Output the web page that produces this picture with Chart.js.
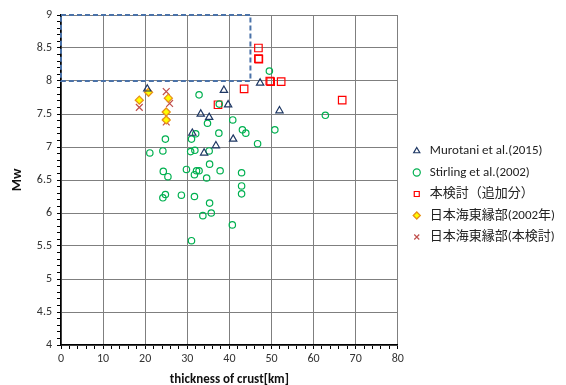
<!DOCTYPE html>
<html>
<head>
<meta charset="utf-8">
<script src="https://cdn.jsdelivr.net/npm/chart.js@4/dist/chart.umd.min.js"></script>
<style>
  body { margin: 0; background: #fff; }
</style>
</head>
<body>
<canvas id="crustChart" width="566" height="385"></canvas>
<script>
// values
const murotaniX = [20.5, 38.7, 47.3, 39.7, 33.2, 35.2, 51.9, 31.2, 40.9, 36.8, 34.0];
const murotaniY = [7.88, 7.86, 7.97, 7.64, 7.50, 7.45, 7.55, 7.21, 7.12, 7.02, 6.91];

const stirlingX = [49.5, 32.8, 37.6, 34.8, 40.8, 50.8, 43.1, 43.9, 32.0, 37.5, 62.8, 24.8, 21.1, 24.2,
  31.0, 46.7, 30.8, 31.8, 35.2, 35.3, 29.8, 32.2, 32.8, 37.8, 42.9, 24.3, 25.4, 31.7, 34.6, 42.9,
  42.9, 28.6, 31.7, 24.8, 24.2, 35.3, 35.7, 33.7, 40.7, 31.0];
const stirlingY = [8.15, 7.79, 7.65, 7.36, 7.41, 7.26, 7.26, 7.21, 7.20, 7.21, 7.48, 7.12, 6.91, 6.94,
  7.12, 7.05, 6.93, 6.95, 6.94, 6.74, 6.66, 6.64, 6.64, 6.64, 6.61, 6.63, 6.55, 6.58, 6.53, 6.41,
  6.29, 6.27, 6.25, 6.28, 6.23, 6.15, 6.00, 5.96, 5.82, 5.58];

const addedX = [46.9, 46.9, 47.0, 49.6, 49.8, 52.3, 43.5, 37.3, 66.8];
const addedY = [8.50, 8.34, 8.33, 8.00, 7.99, 7.99, 7.88, 7.64, 7.71];

const jsea2002X = [20.8, 18.6, 25.5, 25.0, 25.0];
const jsea2002Y = [7.83, 7.71, 7.74, 7.53, 7.41];

const jseaThisX = [25.0, 25.8, 18.6, 25.0];
const jseaThisY = [7.84, 7.66, 7.60, 7.38];

// dashed region outline
const boxX = [0, 45, 45, 0, 0];
const boxY = [9, 9, 8, 8, 9];

const xTicks = [0, 10, 20, 30, 40, 50, 60, 70, 80];
const yTicks = [4, 4.5, 5, 5.5, 6, 6.5, 7, 7.5, 8, 8.5, 9];

const seriesNames = ['Murotani et al.(2015)', 'Stirling et al.(2002)', '本検討（追加分）',
  '日本海東縁部(2002年)', '日本海東縁部(本検討)'];

const toPoints = (xs, ys) => xs.map((x, i) => ({ x: x, y: ys[i] }));
const isMajor = (list, v) => list.some(t => Math.abs(t - v) < 1e-6);

Chart.defaults.font.family = "Carlito, 'Liberation Sans Narrow', 'Liberation Sans', 'Noto Sans CJK JP', sans-serif";
Chart.defaults.color = '#333';

// put the legend where the original has it
const legendPlace = {
  id: 'legendPlace',
  afterLayout(chart) {
    chart.legend.left = chart.chartArea.right + 4;
    chart.legend.right = 566;
    chart.legend.width = 566 - chart.legend.left;
    chart.legend.top = 136;
    chart.legend.bottom = 385;
    chart.legend.height = 385 - 136;
  }
};

const ctx = document.getElementById('crustChart').getContext('2d');

const crustChart = new Chart(ctx, {
  type: 'scatter',
  data: {
    datasets: [
      {
        label: seriesNames[0],
        data: toPoints(murotaniX, murotaniY),
        pointStyle: 'triangle',
        pointRadius: 4.2,
        borderColor: '#1f3864',
        backgroundColor: 'rgba(0,0,0,0)',
        borderWidth: 1.2,
      },
      {
        label: seriesNames[1],
        data: toPoints(stirlingX, stirlingY),
        pointStyle: 'circle',
        pointRadius: 3.2,
        borderColor: '#00b050',
        backgroundColor: 'rgba(0,0,0,0)',
        borderWidth: 1.2,
      },
      {
        label: seriesNames[2],
        data: toPoints(addedX, addedY),
        pointStyle: 'rect',
        pointRadius: 5.3,
        borderColor: '#ff0000',
        backgroundColor: 'rgba(0,0,0,0)',
        borderWidth: 1.2,
      },
      {
        label: seriesNames[3],
        data: toPoints(jsea2002X, jsea2002Y),
        pointStyle: 'rectRot',
        pointRadius: 4,
        borderColor: '#e8901a',
        backgroundColor: '#ffff00',
        borderWidth: 1.3,
      },
      {
        label: seriesNames[4],
        data: toPoints(jseaThisX, jseaThisY),
        pointStyle: 'crossRot',
        pointRadius: 4.8,
        borderColor: '#c0504d',
        backgroundColor: 'rgba(0,0,0,0)',
        borderWidth: 1.2,
      },
      {
        type: 'line',
        label: 'box',
        data: toPoints(boxX, boxY),
        borderColor: '#4a72a8',
        borderWidth: 2,
        borderDash: [5, 3],
        pointRadius: 0,
        fill: false,
        clip: false,
      },
    ],
  },
  options: {
    responsive: false,
    animation: false,
    events: [],
    layout: {
      padding: { top: 15, right: 5, left: 0, bottom: 0 },
    },
    plugins: {
      tooltip: { enabled: false },
      legend: {
        position: 'right',
        align: 'start',
        maxWidth: 165,
        labels: {
          usePointStyle: true,
          boxHeight: 5,
          padding: 8.5,
          color: '#222',
          font: { size: 13 },
          filter: item => item.datasetIndex < 5,
        },
      },
    },
    scales: {
      x: {
        type: 'linear',
        min: 0,
        max: 80,
        afterFit: s => { s.height = 40; },
        ticks: {
          stepSize: 2,
          autoSkip: false,
          maxTicksLimit: 100,
          maxRotation: 0,
          padding: 3,
          font: { size: 12 },
          callback: v => (isMajor(xTicks, v) ? String(v) : ''),
        },
        grid: {
          color: c => (isMajor(xTicks, c.tick.value) ? '#7f7f7f' : 'rgba(0,0,0,0)'),
          tickColor: '#000',
          tickLength: 4,
        },
        border: { color: '#000', width: 1.5 },
        title: {
          display: true,
          text: 'thickness of crust[km]',
          color: '#111',
          font: { size: 13, weight: 'bold' },
          padding: { top: 0, bottom: -3 },
        },
      },
      y: {
        type: 'linear',
        min: 4,
        max: 9,
        afterFit: s => { s.width = 61; },
        ticks: {
          stepSize: 0.1,
          autoSkip: false,
          maxTicksLimit: 100,
          padding: 5,
          font: { size: 12 },
          callback: v => (isMajor(yTicks, v) ? String(Math.round(v * 10) / 10) : ''),
        },
        grid: {
          color: c => (isMajor(yTicks, c.tick.value) ? '#7f7f7f' : 'rgba(0,0,0,0)'),
          tickColor: '#000',
          tickLength: 4,
        },
        border: { color: '#000', width: 1.5 },
        title: {
          display: true,
          text: 'Mw',
          color: '#111',
          font: { size: 14, weight: 'bold' },
          padding: { top: 9, bottom: 0 },
        },
      },
    },
  },
  plugins: [legendPlace],
});
</script>
</body>
</html>
